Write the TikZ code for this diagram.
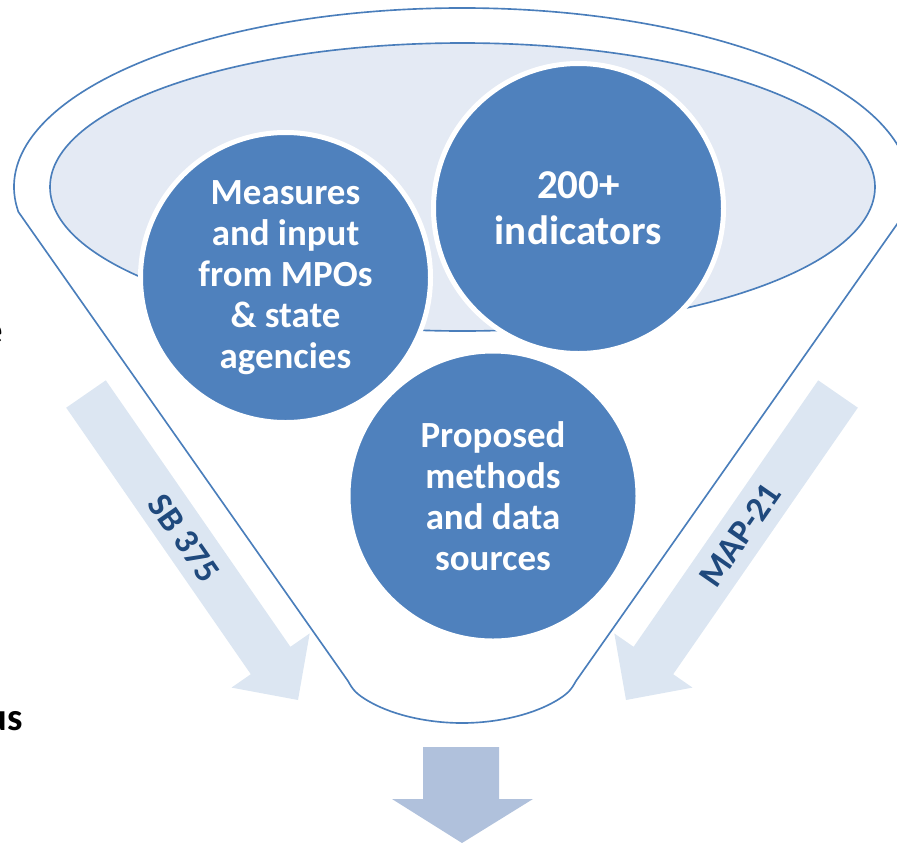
\documentclass[tikz,border=0pt]{standalone}
\usepackage{fontspec}
\setmainfont{Carlito}
\usetikzlibrary{positioning,calc}
\definecolor{funnelblue}{RGB}{74,126,187}
\definecolor{bubbleblue}{RGB}{79,129,189}
\definecolor{rimfill}{RGB}{228,234,244}
\definecolor{lawfill}{RGB}{220,230,242}
\definecolor{lawtext}{RGB}{31,73,125}
\definecolor{outfill}{RGB}{176,193,220}

\begin{document}
\begin{tikzpicture}[x=0.3mm,y=-0.3mm,
    funnelline/.style={draw=funnelblue,line width=1.4pt},
    bubble/.style={circle,fill=bubbleblue,draw=white,line width=1.5mm,
        minimum size=87mm,inner sep=0pt,text=white,align=center,
        font=\fontsize{31.5}{35}\selectfont\bfseries},
    lawlabel/.style={text=lawtext,inner sep=0pt,
        font=\fontsize{30}{32}\selectfont\bfseries},
    sidetext/.style={inner sep=0pt,font=\fontsize{33}{36}\selectfont\bfseries}]
    \useasboundingbox (0,0) rectangle (897,842);

    % Cut-off words at the left edge
    \node[sidetext,anchor=base east] (efrag) at (3,343) {e};
    \node[sidetext,anchor=base east] (us) at (23,730) {us};

    % Funnel outline
    \draw[funnelline] (348,681) -- (18.4,211.9)
        arc[start angle=172,end angle=368,x radius=448,y radius=179]
        -- (576,681) .. controls (571,690) and (568,694) .. (554,702)
        .. controls (529,716) and (494,723) .. (462,723)
        .. controls (430,723) and (395,716) .. (370,702)
        .. controls (356,694) and (353,690) .. (348,681) -- cycle;
    \draw[funnelline,fill=rimfill] (462.5,187) ellipse [x radius=412.5,y radius=144];

    % Inflow arrows
    \fill[lawfill] (66.2,407.7) -- (105.8,380.3) -- (290.4,646.8) -- (309.7,633.4)
        -- (298,700) -- (231.5,687.6) -- (250.8,674.2) -- cycle;
    \fill[lawfill] (857.8,407.7) -- (818.2,380.3) -- (633.6,646.8) -- (614.3,633.4)
        -- (626,700) -- (692.5,687.6) -- (673.2,674.2) -- cycle;
    \node[lawlabel,rotate=-55.3] (sb) at (184,538) {SB 375};
    \node[lawlabel,rotate=55.3] (map) at (740,535) {MAP-21};

    % Bubbles
    \node[bubble] (measures) at (285.5,277.5) {Measures\\and input\\from MPOs\\\& state\\agencies};
    \node[bubble,font=\fontsize{35}{39}\selectfont\bfseries] (indicators) at (578.5,208.5) {200+\\indicators};
    \node[bubble] (methods) at (493,496) {Proposed\\methods\\and data\\sources};

    % Outflow arrow
    \fill[outfill] (423,747) -- (499,747) -- (499,799) -- (533,799) -- (462,843)
        -- (392,799) -- (423,799) -- cycle;
\end{tikzpicture}
\end{document}
